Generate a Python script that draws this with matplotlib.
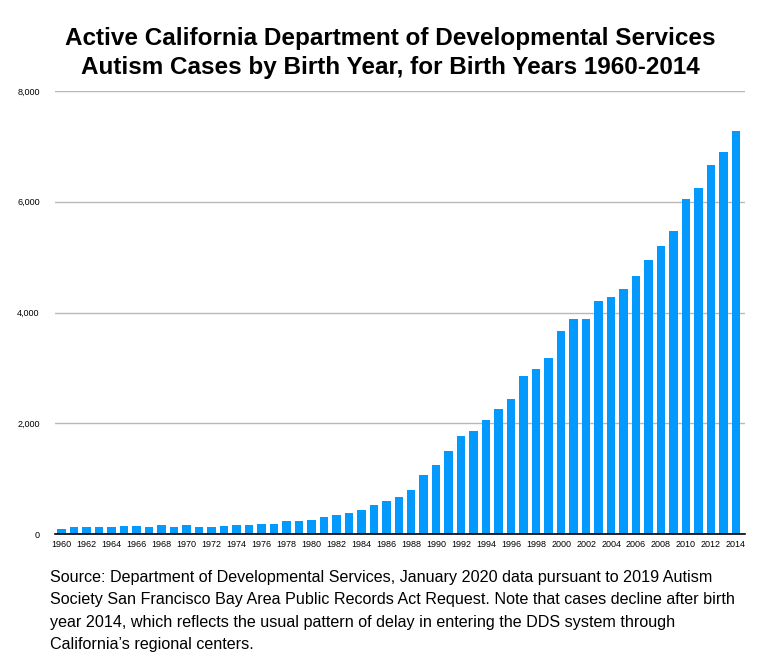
import matplotlib.pyplot as plt
import numpy as np

years = list(range(1960, 2015))
cases = [96, 132, 132, 132, 132, 150, 150, 132, 168, 132,
         168, 132, 132, 150, 168, 168, 181, 181, 235, 235,
         253, 307, 343, 380, 434, 524, 596, 669, 795, 1066,
         1247, 1500, 1771, 1861, 2060, 2259, 2440, 2855, 2982, 3181,
         3669, 3885, 3885, 4211, 4283, 4428, 4663, 4952, 5205, 5476,
         6054, 6253, 6669, 6904, 7283]
yticks = [0, 2000, 4000, 6000, 8000]

title = ("Active California Department of Developmental Services\n"
         "Autism Cases by Birth Year, for Birth Years 1960-2014")
note = ("Source: Department of Developmental Services, January 2020 data pursuant to 2019 Autism\n"
        "Society San Francisco Bay Area Public Records Act Request. Note that cases decline after birth\n"
        "year 2014, which reflects the usual pattern of delay in entering the DDS system through\n"
        "California\u2019s regional centers.")

plt.rcParams['font.family'] = ['Liberation Sans', 'DejaVu Sans']

fig = plt.figure(figsize=(7.8, 6.6), dpi=100)
ax = fig.add_axes([55 / 780, 1 - 534 / 660, 690 / 780, 443 / 660])

ax.bar(years, cases, width=0.68, color='#0499FC', zorder=3)

ax.set_ylim(0, 8000)
ax.set_xlim(1960 - 0.52, 2014 + 0.72)
ax.set_yticks(yticks)
ax.set_yticklabels([f'{v:,}' for v in yticks], fontsize=6.5)
ax.set_xticks(years[::2])
ax.set_xticklabels([str(y) for y in years[::2]], fontsize=6.5)
ax.tick_params(axis='both', length=0, pad=4)
ax.tick_params(axis='y', pad=11)

ax.grid(axis='y', color='#b8b8b8', linewidth=1, zorder=0)
for side in ['top', 'right', 'left']:
    ax.spines[side].set_visible(False)
ax.spines['bottom'].set_linewidth(1.2)
ax.spines['bottom'].set_zorder(4)

fig.text(0.5, 1 - 53 / 660, title, ha='center', va='center', fontsize=17.5,
         fontweight='bold', linespacing=1.36)
fig.text(50 / 780, 1 - 570 / 660, note, ha='left', va='top', fontsize=11.6,
         linespacing=1.62)

fig.savefig('out.png', dpi=100)
